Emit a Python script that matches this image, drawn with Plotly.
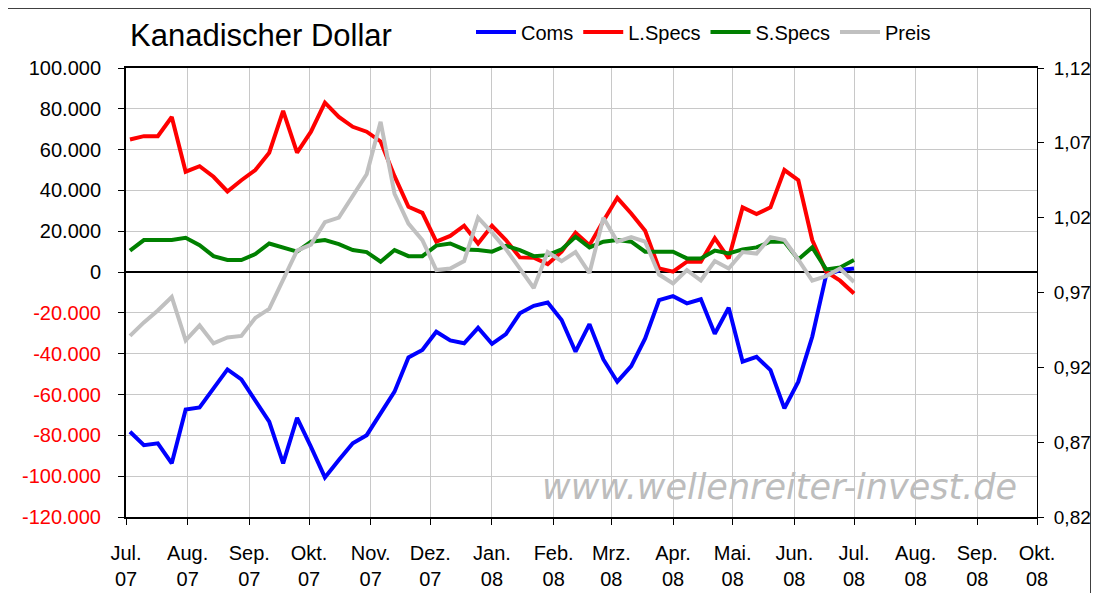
import pandas as pd
import plotly.graph_objects as go

# ---- data ----
dates = pd.date_range("2007-07-03", periods=53, freq="7D")

coms = [-78200, -84800, -83900, -93700, -67300, -66300, -57000, -47700, -52600, -62700,
        -73300, -93700, -71400, -85600, -100600, -92100, -83900, -79900, -69200, -58600,
        -41800, -38200, -29200, -33500, -34900, -27300, -35200, -30400, -20200, -16500,
        -14900, -23500, -39000, -25500, -42800, -53700, -46100, -32500, -13700, -11800,
        -15300, -13300, -30200, -17500, -43900, -41500, -48000, -66800, -53700, -31700,
        -1500, 1000, 1800]

l_specs = [65000, 66600, 66600, 76000, 49200, 51900, 46700, 39500, 45000, 50000,
           58500, 79000, 58500, 68800, 83000, 76000, 71200, 68800, 64000, 47000,
           32000, 29000, 14900, 17700, 22700, 14000, 22700, 15700, 7200, 7000,
           3900, 10000, 19300, 13200, 25000, 36400, 28700, 20200, 1800, 200,
           5100, 5100, 16600, 6700, 31700, 28400, 31700, 50000, 45000, 15700,
           200, -4200, -10500]

s_specs = [10500, 15700, 15700, 15700, 16800, 13200, 7800, 5900, 5900, 8800,
           14000, 12100, 10000, 14900, 15700, 13700, 10800, 9800, 5100, 10800,
           7800, 7800, 13000, 14000, 11100, 10800, 10000, 12900, 10800, 7800,
           8300, 11100, 17300, 12100, 14900, 15700, 14900, 10000, 10000, 10000,
           6700, 6700, 10500, 9100, 11100, 12100, 14900, 14900, 6200, 12100,
           1300, 2300, 5900]

preis = [0.941, 0.950, 0.958, 0.967, 0.938, 0.948, 0.936, 0.940, 0.941, 0.953,
         0.959, 0.978, 0.998, 1.002, 1.017, 1.020, 1.034, 1.049, 1.084, 1.036,
         1.016, 1.005, 0.985, 0.986, 0.991, 1.020, 1.010, 0.999, 0.986, 0.973,
         0.997, 0.991, 0.997, 0.983, 1.020, 1.004, 1.007, 1.004, 0.982, 0.976,
         0.985, 0.978, 0.991, 0.986, 0.997, 0.996, 1.007, 1.005, 0.992, 0.978,
         0.981, 0.986, 0.977]

month_ticks = pd.date_range("2007-07-01", "2008-10-01", freq="MS")
month_names = ["Jul.", "Aug.", "Sep.", "Okt.", "Nov.", "Dez.", "Jan.", "Feb.",
               "Mrz.", "Apr.", "Mai.", "Jun.", "Jul.", "Aug.", "Sep.", "Okt."]
month_years = ["07"] * 6 + ["08"] * 10

left_vals = [100000, 80000, 60000, 40000, 20000, 0, -20000, -40000, -60000,
             -80000, -100000, -120000]
right_vals = [1.12, 1.07, 1.02, 0.97, 0.92, 0.87, 0.82]

# ---- helpers for German number formatting ----
def de_thousands(v):
    s = f"{abs(v):,}".replace(",", ".")
    if v < 0:
        return f"<span style='color:#FF0000'>-{s}</span>"
    return s

left_text = [de_thousands(v) for v in left_vals]
right_text = [f"{v:.2f}".replace(".", ",") for v in right_vals]
x_text = [f"{m}<br>{y}" for m, y in zip(month_names, month_years)]

FONT = "Liberation Sans, Arial, sans-serif"

# figure geometry (figure is placed with the page's 8px body margin)
W, H = 1083, 585
L, R, T, B = 118, 54, 60, 76
PW, PH = W - L - R, H - T - B


def px(xf):
    return (xf - L) / PW


def py(yf):
    return (H - B - yf) / PH


fig = go.Figure()
fig.add_trace(go.Scatter(x=dates, y=coms, name="Coms", mode="lines",
                         line=dict(color="#0000FF", width=4)))
fig.add_trace(go.Scatter(x=dates, y=l_specs, name="L.Specs", mode="lines",
                         line=dict(color="#FF0000", width=4)))
fig.add_trace(go.Scatter(x=dates, y=s_specs, name="S.Specs", mode="lines",
                         line=dict(color="#008000", width=4)))
fig.add_trace(go.Scatter(x=dates, y=preis, name="Preis", mode="lines", yaxis="y2",
                         line=dict(color="#C0C0C0", width=4)))

fig.update_layout(
    width=W, height=H,
    margin=dict(l=L, r=R, t=T, b=B, autoexpand=False),
    paper_bgcolor="white", plot_bgcolor="white",
    font=dict(family=FONT, size=20, color="black"),
    title=dict(text="Kanadischer Dollar", x=122 / W, xanchor="left",
               y=1 - 27 / H, yanchor="middle",
               font=dict(family=FONT, size=31, color="black")),
    showlegend=True,
    legend=dict(orientation="h", x=px(463), xanchor="left",
                y=py(24), yanchor="middle",
                bgcolor="rgba(0,0,0,0)", font=dict(family=FONT, size=20),
                itemwidth=40, tracegroupgap=0),
    xaxis=dict(
        type="date",
        range=[month_ticks[0], month_ticks[-1]],
        tickmode="array", tickvals=list(month_ticks), ticktext=x_text,
        showgrid=True, gridcolor="#C8C8C8", gridwidth=1,
        showline=True, linecolor="black", linewidth=2, mirror=True,
        ticks="outside", ticklen=6, tickcolor="black",
        ticklabelstandoff=11,
        zeroline=False,
    ),
    yaxis=dict(
        range=[-120000, 100000],
        tickmode="array", tickvals=left_vals, ticktext=left_text,
        showgrid=True, gridcolor="#C8C8C8", gridwidth=1,
        zeroline=True, zerolinecolor="black", zerolinewidth=2,
        showline=True, linecolor="black", linewidth=2,
        ticks="outside", ticklen=6, tickcolor="black",
        ticklabelstandoff=13,
    ),
    yaxis2=dict(
        range=[0.82, 1.12], overlaying="y", side="right",
        tickmode="array", tickvals=right_vals, ticktext=right_text,
        showgrid=False, zeroline=False,
        showline=True, linecolor="black", linewidth=1,
        ticks="outside", ticklen=6, tickcolor="black",
        ticklabelstandoff=6,
        tickfont=dict(family=FONT, size=19),
    ),
    shapes=[dict(type="rect", xref="paper", yref="paper",
                 x0=px(-4), x1=px(1082.5),
                 y0=py(592), y1=py(0.5),
                 line=dict(color="#404040", width=1), layer="below")],
    annotations=[dict(text="www.wellenreiter-invest.de", xref="paper", yref="paper",
                      x=px(771), y=py(479),
                      xanchor="center", yanchor="middle", showarrow=False,
                      font=dict(family="DejaVu Sans, sans-serif", size=35,
                                color="#BDBDBD", style="italic"))],
)

fig.write_html("out.html")
